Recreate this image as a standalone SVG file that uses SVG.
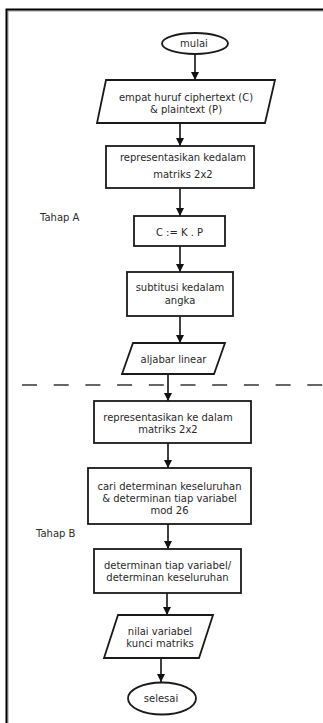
<svg xmlns="http://www.w3.org/2000/svg" width="323" height="723" viewBox="0 0 323 723">
  <defs>
    <marker id="arrow" markerWidth="8" markerHeight="8" refX="8" refY="4" orient="auto" markerUnits="userSpaceOnUse">
      <path d="M0,0 L8,4 L0,8 Z" fill="#111"/>
    </marker>
  </defs>
  <style>
    .shape { fill: #fff; stroke: #1a1a1a; stroke-width: 1.8; }
    .label { font-family: "DejaVu Sans", sans-serif; font-size: 10px; fill: #2a2a2a; text-anchor: middle; }
    .side { font-family: "DejaVu Sans", sans-serif; font-size: 10px; fill: #2a2a2a; }
    .edge { stroke: #111; stroke-width: 1.6; fill: none; marker-end: url(#arrow); }
  </style>

  <rect x="0" y="0" width="323" height="723" fill="#fff"/>

  <!-- page frame -->
  <g id="frame">
    <path d="M8,723 V11 H323" fill="none" stroke="#999" stroke-width="1"/>
    <path d="M6.5,723 V9.5 H323" fill="none" stroke="#000" stroke-width="2"/>
  </g>

  <!-- stage separator -->
  <line x1="22" y1="385" x2="323" y2="385" stroke="#666" stroke-width="2" stroke-dasharray="15 16.7"/>

  <!-- stage labels -->
  <text class="side" x="40" y="221">Tahap A</text>
  <text class="side" x="36" y="536.5">Tahap B</text>

  <!-- connectors -->
  <g id="connectors">
    <line class="edge" x1="195" y1="54" x2="195" y2="80"/>
    <line class="edge" x1="180" y1="123" x2="180" y2="146"/>
    <line class="edge" x1="180" y1="188" x2="180" y2="216"/>
    <line class="edge" x1="180" y1="246" x2="180" y2="272"/>
    <line class="edge" x1="180" y1="316" x2="180" y2="343"/>
    <line class="edge" x1="168" y1="374" x2="168" y2="401"/>
    <line class="edge" x1="168" y1="443" x2="168" y2="468"/>
    <line class="edge" x1="168" y1="524" x2="168" y2="549"/>
    <line class="edge" x1="167" y1="593" x2="167" y2="615"/>
    <line class="edge" x1="161" y1="658" x2="161" y2="682"/>
  </g>

  <g id="start">
    <ellipse class="shape" cx="195" cy="43.5" rx="33" ry="10.5"/>
    <text class="label" x="194" y="47">mulai</text>
  </g>

  <g id="input-text">
    <polygon class="shape" points="106,80 275,80 265,123 97,123"/>
    <text class="label" x="186" y="100.5">empat huruf ciphertext (C)</text>
    <text class="label" x="186" y="113">&amp; plaintext (P)</text>
  </g>

  <g id="matrix-a">
    <rect class="shape" x="106" y="146" width="148" height="42"/>
    <text class="label" x="183" y="160.5">representasikan kedalam</text>
    <text class="label" x="183" y="177.5">matriks 2x2</text>
  </g>

  <g id="encrypt">
    <rect class="shape" x="134" y="216" width="91" height="30"/>
    <text class="label" x="179.5" y="235.5">C := K . P</text>
  </g>

  <g id="substitute">
    <rect class="shape" x="127" y="272" width="106" height="44"/>
    <text class="label" x="180" y="290.5">subtitusi kedalam</text>
    <text class="label" x="180" y="303.5">angka</text>
  </g>

  <g id="linear-algebra">
    <polygon class="shape" points="133,343 225,343 214,374 122,374"/>
    <text class="label" x="173.5" y="362.5">aljabar linear</text>
  </g>

  <g id="matrix-b">
    <rect class="shape" x="94" y="401" width="157" height="42"/>
    <text class="label" x="168" y="420.5">representasikan ke dalam</text>
    <text class="label" x="168" y="432.5">matriks 2x2</text>
  </g>

  <g id="determinants">
    <rect class="shape" x="88" y="468" width="163" height="56"/>
    <text class="label" x="169.5" y="489.5">cari determinan keseluruhan</text>
    <text class="label" x="169.5" y="501.5">&amp; determinan tiap variabel</text>
    <text class="label" x="169.5" y="514">mod 26</text>
  </g>

  <g id="ratio">
    <rect class="shape" x="94" y="549" width="147" height="44"/>
    <text class="label" x="167.5" y="568.5">determinan tiap variabel/</text>
    <text class="label" x="167.5" y="580.5">determinan keseluruhan</text>
  </g>

  <g id="key-output">
    <polygon class="shape" points="118,615 213,615 199,658 104,658"/>
    <text class="label" x="160" y="634.5">nilai variabel</text>
    <text class="label" x="160" y="646.5">kunci matriks</text>
  </g>

  <g id="end">
    <ellipse class="shape" cx="162" cy="698.5" rx="34" ry="16"/>
    <text class="label" x="161" y="702">selesai</text>
  </g>
</svg>
